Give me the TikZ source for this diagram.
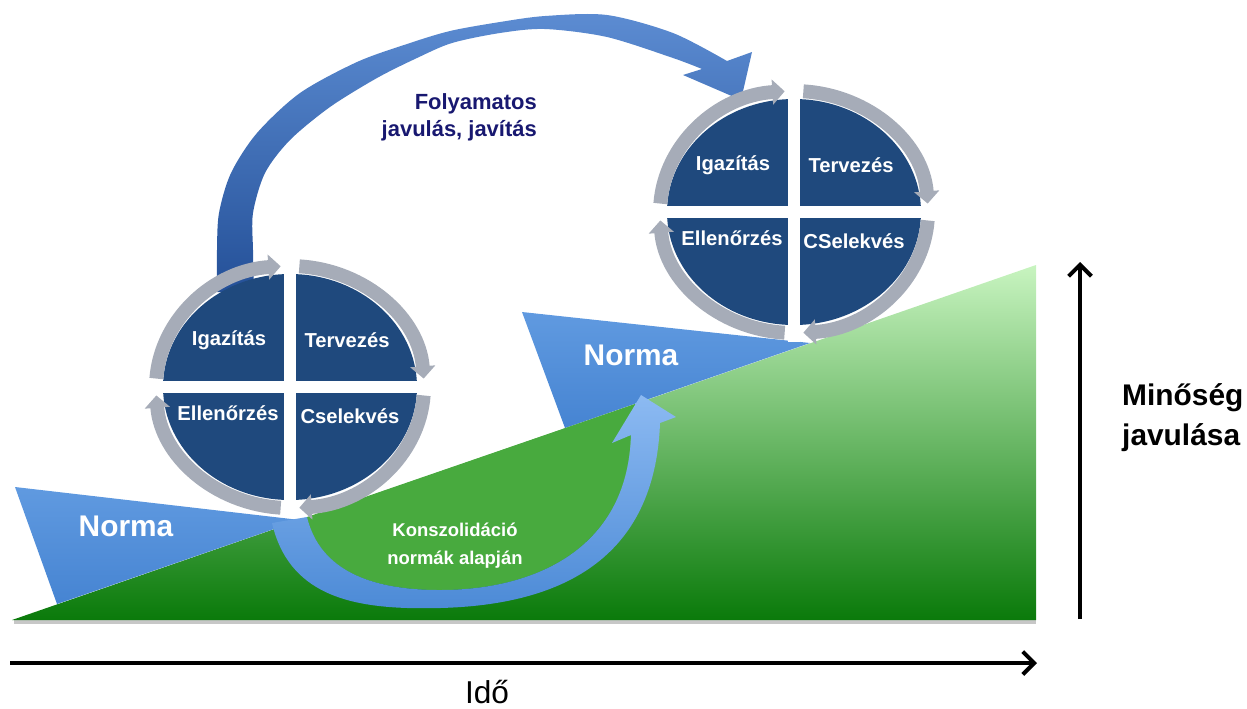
\documentclass[tikz,border=0pt]{standalone}
\usepackage{fontspec}
\setmainfont{Liberation Sans}
\usetikzlibrary{arrows.meta}
\definecolor{wheelnavy}{RGB}{31,73,125}
\definecolor{ringgrey}{RGB}{166,172,184}
\definecolor{normablue}{RGB}{70,132,210}
\definecolor{normalight}{RGB}{96,154,224}
\definecolor{gtop}{RGB}{200,244,192}
\definecolor{gmid}{RGB}{98,190,88}
\definecolor{gbot}{RGB}{10,122,10}
\definecolor{consgreen}{RGB}{72,170,62}
\definecolor{arcdark}{RGB}{36,80,152}
\definecolor{arclight}{RGB}{92,140,210}
\definecolor{ublue}{RGB}{76,138,214}
\definecolor{uhead}{RGB}{140,186,242}
\definecolor{titlenavy}{RGB}{24,24,112}
% one PDCA wheel: centre, name prefix, four labels
\def\cyclewheel(#1,#2)[#3]#4#5#6#7{%
  \fill[wheelnavy] (#1,#2) ellipse [x radius=127, y radius=113];
  \draw[white, line width=6.4pt] (#1-142,#2) -- (#1+142,#2);
  \draw[white, line width=6.8pt] (#1,#2-130) -- (#1,#2+130);
  \foreach \a in {-176,-86,4,94} {
    \draw[ringarrow] ({#1+134*cos(\a)},{#2+121*sin(\a)}) arc [start angle=\a, delta angle=82, x radius=134, y radius=121];
  }
  \node[wheeltext] (#3-ig) at (#1-61,#2-47) {#4};
  \node[wheeltext] (#3-te) at (#1+57,#2-47) {#5};
  \node[wheeltext] (#3-el) at (#1-62,#2+26) {#6};
  \node[wheeltext] (#3-cs) at (#1+60,#2+29) {#7};
}

\begin{document}
\begin{tikzpicture}[x=0.02cm, y=-0.02cm,
    wheeltext/.style={text=white, font=\fontsize{11.5}{13}\selectfont\bfseries},
    normatext/.style={text=white, font=\fontsize{17}{19}\selectfont\bfseries},
    constext/.style={text=white, align=center, font=\fontsize{10.5}{15.8}\selectfont\bfseries},
    titletext/.style={text=titlenavy, align=right, font=\fontsize{12.5}{15.3}\selectfont\bfseries},
    axislabel/.style={text=black, font=\fontsize{17}{22.7}\selectfont\bfseries},
    ringarrow/.style={draw=ringgrey, line width=7.9pt, -{Triangle[length=7pt,width=14pt]}},
    axisarrow/.style={draw=black, line width=2.3pt, -{Straight Barb[length=6.5pt,width=13pt]}}]
		%%%%% START %%%%%
		\useasboundingbox (0,0) rectangle (1247,708);
		
		% rising quality
		\fill[black!22] (14,620) -- (1036,620) -- (1036,624) -- (14,624) -- cycle;
		\shade[top color=gtop, middle color=gmid, bottom color=gbot] (12,620) -- (1036,620) -- (1036,265) -- cycle;
		
		% norm wedges
		\shade[top color=normalight, bottom color=normablue] (15,487) -- (300,520) -- (57,604) -- cycle;
		\shade[top color=normalight, bottom color=normablue] (522,312) -- (810,343) -- (565,428) -- cycle;
		
		% consolidation arrow
		\fill[consgreen] (307,517) -- (635,404) -- (631,433) .. controls (628,545) and (540,590) .. (440,590) .. controls (370,590) and (320,570) .. (307,517) -- cycle;
		\shade[top color=uhead, bottom color=ublue] (272,523) .. controls (290,600) and (360,610) .. (440,608) .. controls (560,605) and (655,560) .. (660,423) -- (676,417) -- (641,395) -- (612,443) -- (631,435) .. controls (628,545) and (540,590) .. (440,590) .. controls (370,590) and (320,570) .. (307,517) -- cycle;
		
		% continual improvement arrow
		\shade[top color=arclight, bottom color=arcdark] (217,292) -- plot[smooth] coordinates {(217,292) (217,250) (219,213) (231,173) (257,133) (300,93) (357,62) (407,44) (450,31) (500,22) (545,16) (607,15) (673,33) (727,61)}
			-- (752,52) -- (741,100) -- (683,75)
			-- plot[smooth] coordinates {(702,69) (673,58) (607,37) (545,29) (500,33) (452,43) (417,58) (377,78) (330,107) (290,140) (265,173) (253,213) (253,250) (254,292)} -- cycle;
		
		\cyclewheel(290,387)[lo]{Igazítás}{Tervezés}{Ellenőrzés}{Cselekvés}
		\cyclewheel(794,212)[hi]{Igazítás}{Tervezés}{Ellenőrzés}{CSelekvés}
		
		\node[normatext] (norma-lo) at (126,526) {Norma};
		\node[normatext] (norma-hi) at (631,355) {Norma};
		\node[constext] (cons) at (455,546) {Konszolidáció\\normák alapján};
		\node[titletext, anchor=east] (title) at (543,117) {Folyamatos\\javulás, javítás};
		
		% axes
		\coordinate (time-a) at (10,663);
		\coordinate (time-b) at (1037,663);
		\draw[axisarrow] (time-a) -- (time-b);
		\node[axislabel, font=\fontsize{18}{20}\selectfont] (ido) at (487,692) {Idő};
		
		\coordinate (qual-a) at (1080,619);
		\coordinate (qual-b) at (1080,262);
		\draw[axisarrow] (qual-a) -- (qual-b);
		\node[axislabel, align=left, anchor=west] (minoseg) at (1116,418) {Minőség\\javulása};
		
		%%%%% END %%%%%
	\end{tikzpicture}
\end{document}
